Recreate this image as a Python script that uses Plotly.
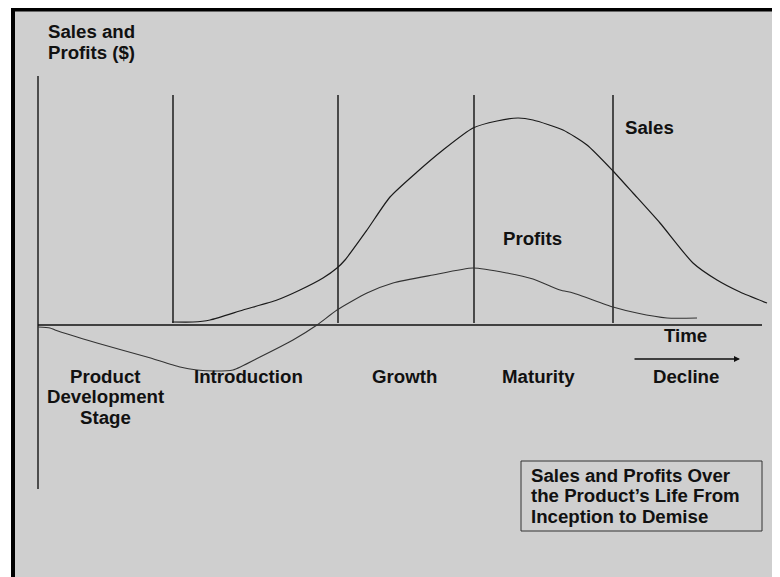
import plotly.graph_objects as go

# time runs left to right, values are $ above / below the zero line
sales_t = [172, 193, 210, 243, 277, 300, 323, 337, 345, 367, 390, 417, 443, 473,
           497, 518, 533, 563, 587, 613, 633, 660, 693, 717, 740, 767]
sales_v = [3, 3, 5, 15, 25, 35, 47, 57, 65, 95, 128, 153, 175, 197,
           204, 207, 205, 195, 180, 154, 132, 102, 62, 45, 33, 22]

profit_t = [38, 50, 55, 97, 147, 180, 197, 215, 233, 260, 293, 317, 337, 367,
            393, 433, 473, 507, 533, 560, 573, 613, 637, 667, 697]
profit_v = [-2, -3, -5, -18, -32, -42, -45, -46, -45, -32, -15, 0, 15, 32,
            42, 50, 57, 52, 46, 35, 32, 18, 12, 7, 7]

stage_bounds = [173, 338, 474, 613]
stage_names = ["Introduction", "Growth", "Maturity", "Decline"]
stage_label_t = [248, 404, 538, 686]
dev_lines = ["Product", "Development", "Stage"]
note_lines = ["Sales and Profits Over", "the Product\u2019s Life From", "Inception to Demise"]
y_title = ["Sales and", "Profits ($)"]

FONT = "Liberation Sans, Arial, sans-serif"
BG = "#cfcfcf"
INK = "#111111"

fig = go.Figure()

# background panel with heavy frame (drawn first so the note box sits on it)
fig.add_shape(type="rect", x0=13, x1=778, y0=315.5, y1=-280,
              line=dict(color="black", width=4), fillcolor=BG, layer="below")
fig.add_shape(type="rect", x0=521, x1=762, y0=-136, y1=-206,
              line=dict(color="#333333", width=1), fillcolor=BG, layer="below")

# axes drawn as lines
fig.add_trace(go.Scatter(x=[38, 38], y=[249, -164], mode="lines",
                         line=dict(color="#222222", width=1.5), hoverinfo="skip"))
fig.add_trace(go.Scatter(x=[38, 762], y=[0, 0], mode="lines",
                         line=dict(color="#111111", width=1.5), hoverinfo="skip"))

# stage dividers
vx, vy = [], []
for b in stage_bounds:
    vx += [b, b, None]
    vy += [230, 2, None]
fig.add_trace(go.Scatter(x=vx, y=vy, mode="lines",
                         line=dict(color="#111111", width=1.4), hoverinfo="skip"))

fig.add_trace(go.Scatter(x=sales_t, y=sales_v, mode="lines", name="Sales",
                         line=dict(color="#1a1a1a", width=1.2, shape="spline", smoothing=0.6)))
fig.add_trace(go.Scatter(x=profit_t, y=profit_v, mode="lines", name="Profits",
                         line=dict(color="#333333", width=1.1, shape="spline", smoothing=0.6)))


def label(x, y, text, xanchor="center"):
    fig.add_annotation(x=x, y=y, text=text, showarrow=False, xanchor=xanchor,
                       yanchor="middle",
                       font=dict(family=FONT, size=18.67, color=INK, weight="bold"))


for i, t in enumerate(y_title):
    label(46, 294 - 21 * i, t, "left")
for name, t in zip(stage_names, stage_label_t):
    label(t, -51, name)
for i, t in enumerate(dev_lines):
    label(105, -51 - 20.5 * i, t)
for i, t in enumerate(note_lines):
    label(529, -150 - 20.5 * i, t, "left")
label(649, 198, "Sales")
label(532, 87, "Profits")
label(685, -10, "Time")

fig.add_annotation(x=740, y=-34, ax=633, ay=-34, axref="x", ayref="y",
                   xref="x", yref="y", text="", showarrow=True,
                   arrowhead=2, arrowsize=0.8, arrowwidth=1.5, arrowcolor=INK)

# page body has an 8px margin, so the figure is 8px smaller and the ranges start at 8
fig.update_layout(
    width=772, height=569,
    margin=dict(l=0, r=0, t=0, b=0),
    paper_bgcolor="white", plot_bgcolor="white",
    showlegend=False,
    xaxis=dict(range=[8, 780], visible=False, fixedrange=True),
    yaxis=dict(range=[-252, 317], visible=False, fixedrange=True),
)

fig.write_html("out.html")
